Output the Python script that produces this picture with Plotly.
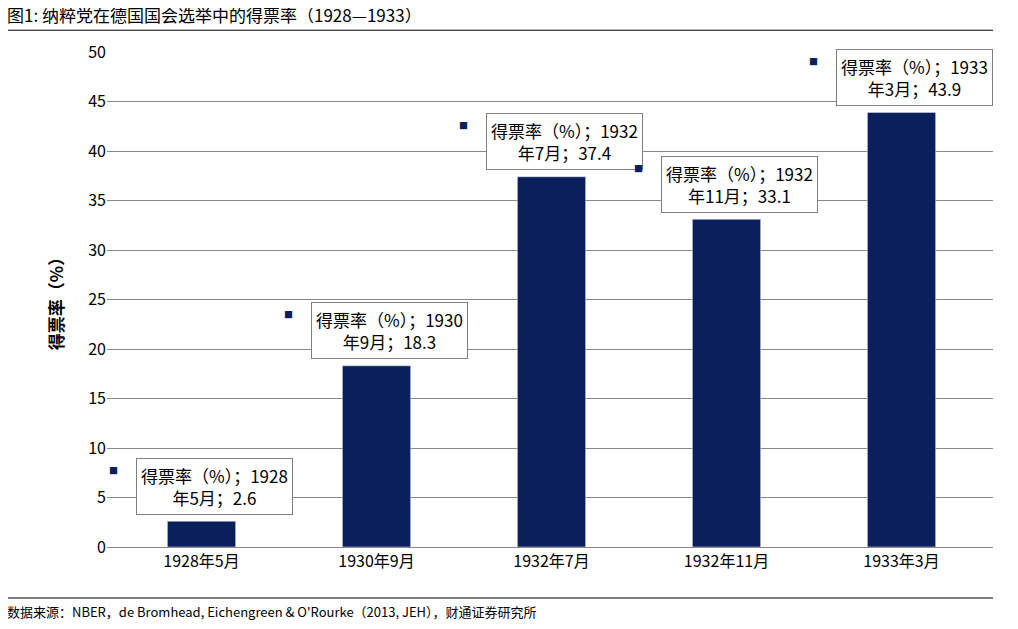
import plotly.graph_objects as go

categories = ["1928年5月", "1930年9月", "1932年7月", "1932年11月", "1933年3月"]
values = [2.6, 18.3, 37.4, 33.1, 43.9]
label_years = ["1928", "1930", "1932", "1932", "1933"]
label_months = ["5月", "9月", "7月", "11月", "3月"]
y_ticks = [0, 5, 10, 15, 20, 25, 30, 35, 40, 45, 50]

font = "Noto Sans CJK SC"
fig = go.Figure(go.Bar(x=categories, y=values, marker_color="#0a1f5c", width=0.39))

anns = []
for c, v, yr, m in zip(categories, values, label_years, label_months):
    anns.append(dict(x=c, y=v, xref="x", yref="y", text=f"得票率（%）；{yr}<br>年{m}；{v}",
                     showarrow=False, xshift=13, yshift=35, bordercolor="#7f7f7f", borderwidth=1,
                     bgcolor="white", borderpad=4, font=dict(size=17, color="black", family=font)))
    anns.append(dict(x=c, y=v, xref="x", yref="y", text="■", showarrow=False, xshift=-88, yshift=51,
                     font=dict(size=9, color="#0a1f5c")))
anns += [
    dict(x=-0.115, y=1.075, xref="paper", yref="paper", xanchor="left", yanchor="middle", showarrow=False,
         text="图1: 纳粹党在德国国会选举中的得票率（1928—1933）", font=dict(size=17)),
    dict(x=-0.115, y=-0.131, xref="paper", yref="paper", xanchor="left", yanchor="middle", showarrow=False,
         text="数据来源：NBER，de Bromhead, Eichengreen &amp; O'Rourke（2013, JEH），财通证券研究所",
         font=dict(size=13)),
]
fig.update_layout(
    width=1018, height=629, paper_bgcolor="white", plot_bgcolor="white",
    margin=dict(l=99, r=33, t=44, b=90),
    font=dict(family=font, size=16, color="black"),
    showlegend=False,
    annotations=anns,
    shapes=[
        dict(type="line", xref="paper", yref="paper", x0=-0.121, x1=1.0, y0=1.044, y1=1.044, line=dict(color="black", width=1)),
        dict(type="line", xref="paper", yref="paper", x0=-0.121, x1=1.0, y0=-0.103, y1=-0.103, line=dict(color="black", width=1)),
    ],
    xaxis=dict(showline=True, linecolor="#888", ticks="", tickfont=dict(size=16)),
    yaxis=dict(range=[0, 50], tickvals=y_ticks, showgrid=True, gridcolor="#888", gridwidth=1,
               ticks="", tickfont=dict(size=16),
               title=dict(text="<b>得票率（%）</b>", font=dict(size=17), standoff=20)),
)
fig.write_html("out.html")
